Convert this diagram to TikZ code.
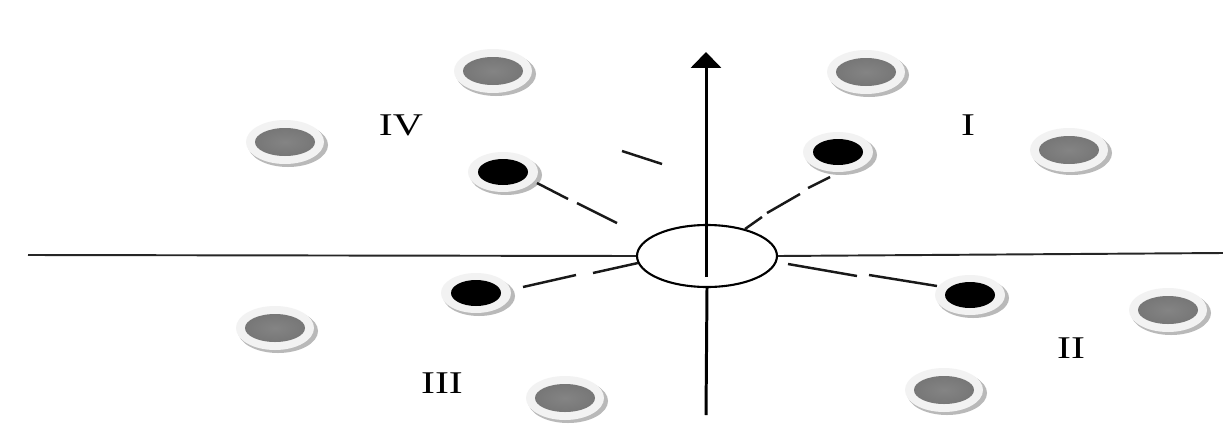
\documentclass[tikz,border=0pt]{standalone}
\usepackage{fontspec}
\setmainfont{Liberation Serif}
\usetikzlibrary{shapes.geometric,arrows.meta}
\definecolor{dotgray}{RGB}{132,132,132}
\tikzset{
  px/.style={x=0.02cm,y=-0.02cm},
  axis/.style={line width=1.1pt,black!85},
  vaxis/.style={line width=1.7pt,black},
  seg/.style={line width=1.4pt,black!90},
  lbl/.style={font=\fontsize{18}{20}\selectfont,xscale=1.32},
}
\newcommand{\graydot}[2]{%
  \fill[gray!55] (#1+3,#2+3) ellipse (40 and 22);
  \fill[gray!10] (#1,#2) ellipse (39 and 22);
  \shade[inner color=dotgray, outer color=dotgray!90!black] (#1,#2) ellipse (30 and 14);
}
\newcommand{\blackdot}[2]{%
  \fill[gray!55] (#1+3,#2+3) ellipse (36 and 20);
  \fill[gray!10] (#1,#2) ellipse (35 and 20);
  \fill[black] (#1,#2) ellipse (25 and 13);
}
\begin{document}
\begin{tikzpicture}[px]
\useasboundingbox (0,0) rectangle (1223,443);
\fill[white] (0,0) rectangle (1223,443);
% centre ellipse
\node[draw,line width=1.2pt,ellipse,minimum width=2.8cm,minimum height=1.24cm,inner sep=0pt] (c) at (707,256) {};
% axes
\coordinate (L) at (28,255);
\coordinate (R) at (1223,253);
\coordinate (B) at (706,415);
\coordinate (T) at (706,52);
\coordinate (Tin) at (706,277);
\draw[axis] (L) -- (c.west);
\draw[axis] (c.east) -- (R);
\draw[vaxis] (B) -- (c.south);
\draw[vaxis,-{Triangle[width=17pt,length=9pt]}] (Tin) -- (T);
% gray dots
\graydot{493}{71}
\graydot{285}{142}
\graydot{866}{72}
\graydot{1069}{150}
\graydot{275}{328}
\graydot{565}{398}
\graydot{944}{390}
\graydot{1168}{310}
% black dots
\blackdot{503}{172}
\blackdot{838}{152}
\blackdot{476}{293}
\blackdot{970}{295}
% dashed connectors
\draw[seg] (537,183) -- (568,199);
\draw[seg] (577,203) -- (617,223);
\draw[seg] (622,151) -- (662,164);
\draw[seg] (830,177) -- (808,188);
\draw[seg] (800,194) -- (767,213);
\draw[seg] (762,217) -- (745,229);
\draw[seg] (788,264) -- (857,276);
\draw[seg] (869,275) -- (937,286);
\draw[seg] (523,287) -- (576,275);
\draw[seg] (593,273) -- (638,263);
% labels
\node[lbl] (l4) at (401,125) {IV};
\node[lbl] (l1) at (968,125) {I};
\node[lbl] (l2) at (1071,348) {II};
\node[lbl] (l3) at (442,383) {III};
\end{tikzpicture}
\end{document}
